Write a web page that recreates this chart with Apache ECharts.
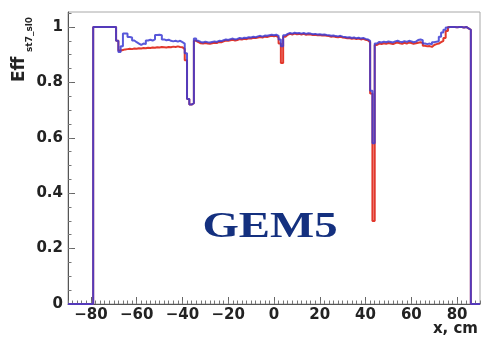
<!DOCTYPE html>
<html>
<head>
<meta charset="utf-8">
<script src="https://cdn.jsdelivr.net/npm/echarts@6/dist/echarts.min.js"></script>
<style>html,body{margin:0;padding:0;background:#fff;}#c{width:481px;height:344px;}</style>
</head>
<body>
<div id="c"></div>
<script>
// Histogram binning (cm)
const binLow = -90;
const binWidth = 1;
// Efficiency per 1 cm bin, from x = -90 to x = 89 (lower edges)
const effBlue = [
  0,0,0,0,0,0,0,0,0,0,
  0,1.0,1.0,1.0,1.0,1.0,1.0,1.0,1.0,1.0,
  1.0,0.95,0.91,0.93,0.976,0.976,0.964,0.962,0.951,0.945,
  0.94,0.935,0.94,0.938,0.951,0.954,0.951,0.955,0.971,0.972,
  0.970,0.955,0.952,0.954,0.95,0.948,0.95,0.947,0.95,0.945,
  0.94,0.905,0.74,0.72,0.725,0.958,0.95,0.946,0.944,0.947,
  0.945,0.944,0.946,0.948,0.946,0.95,0.949,0.952,0.955,0.953,
  0.956,0.958,0.955,0.957,0.96,0.958,0.961,0.96,0.963,0.962,
  0.965,0.963,0.966,0.968,0.965,0.969,0.968,0.97,0.972,0.97,
  0.972,0.968,0.955,0.93,0.97,0.975,0.978,0.976,0.979,0.977,
  0.978,0.976,0.978,0.975,0.977,0.976,0.974,0.975,0.973,0.974,
  0.972,0.973,0.971,0.97,0.968,0.969,0.967,0.966,0.968,0.965,
  0.964,0.962,0.963,0.96,0.962,0.959,0.961,0.958,0.96,0.957,
  0.955,0.95,0.77,0.58,0.94,0.946,0.944,0.947,0.945,0.948,
  0.946,0.944,0.948,0.95,0.947,0.945,0.949,0.946,0.95,0.948,
  0.945,0.947,0.953,0.955,0.952,0.94,0.938,0.94,0.937,0.945,
  0.947,0.948,0.965,0.98,0.99,0.998,1.0,1.0,1.0,0.999,
  1.0,1.0,0.998,1.0,0.995,0.99,0,0,0,0
];
const effRed = [
  0,0,0,0,0,0,0,0,0,0,
  0,1.0,1.0,1.0,1.0,1.0,1.0,1.0,1.0,1.0,
  1.0,0.95,0.915,0.917,0.919,0.92,0.921,0.92,0.922,0.921,
  0.923,0.922,0.924,0.923,0.925,0.924,0.926,0.925,0.927,0.926,
  0.928,0.927,0.926,0.928,0.927,0.929,0.928,0.93,0.928,0.927,
  0.92,0.88,0.74,0.72,0.725,0.95,0.945,0.941,0.94,0.942,
  0.94,0.939,0.941,0.943,0.942,0.946,0.945,0.948,0.951,0.95,
  0.952,0.954,0.951,0.953,0.956,0.955,0.957,0.956,0.959,0.958,
  0.961,0.96,0.962,0.964,0.962,0.965,0.964,0.966,0.968,0.966,
  0.968,0.962,0.94,0.87,0.965,0.972,0.975,0.973,0.976,0.974,
  0.975,0.973,0.975,0.972,0.974,0.973,0.971,0.972,0.97,0.971,
  0.969,0.97,0.968,0.967,0.965,0.966,0.964,0.963,0.965,0.962,
  0.961,0.959,0.96,0.957,0.959,0.956,0.958,0.955,0.957,0.954,
  0.952,0.945,0.76,0.30,0.935,0.94,0.938,0.941,0.939,0.942,
  0.94,0.938,0.942,0.944,0.941,0.939,0.943,0.94,0.944,0.942,
  0.939,0.941,0.943,0.945,0.942,0.932,0.93,0.931,0.928,0.935,
  0.938,0.94,0.945,0.95,0.96,0.985,1.0,1.0,1.0,0.999,
  1.0,1.0,0.998,1.0,0.995,0.99,0,0,0,0
];
const xTickLabels = [-80,-60,-40,-20,0,20,40,60,80];
const yTickLabels = [0,0.2,0.4,0.6,0.8,1];
const xMinorStep = 2;
const yMinorStep = 0.05;
const xRange = [-90, 90];
const yRange = [0, 1.054];

function histPoints(vals) {
  const pts = vals.map((v, i) => [binLow + i * binWidth, v]);
  pts.push([binLow + vals.length * binWidth, vals[vals.length - 1]]);
  return pts;
}
const xMinor = [];
for (let v = xRange[0]; v <= xRange[1] + 1e-9; v += xMinorStep) xMinor.push(v);
const yMinor = [];
for (let k = 0; k * yMinorStep <= yRange[1]; k++) yMinor.push(+(k * yMinorStep).toFixed(3));

const FONT = '"DejaVu Sans", sans-serif';
const chart = echarts.init(document.getElementById('c'), null, {renderer: 'canvas'});
chart.setOption({
  animation: false,
  backgroundColor: '#ffffff',
  grid: {left: 68, right: 1, top: 12, bottom: 40, show: true, borderColor: '#a8a8a8', borderWidth: 1, backgroundColor: 'transparent'},
  xAxis: [
    {type: 'value', min: xRange[0], max: xRange[1], position: 'bottom',
     axisLine: {show: true, onZero: false, lineStyle: {color: '#555', width: 1}},
     axisTick: {show: true, inside: true, length: 7, customValues: xTickLabels, lineStyle: {color: '#666'}},
     axisLabel: {customValues: xTickLabels, margin: 4, fontFamily: FONT, fontWeight: 'bold', fontSize: 15, color: '#222',
       formatter: v => (v < 0 ? '\u2212' + Math.abs(v) : '' + v)},
     splitLine: {show: false}},
    {type: 'value', min: xRange[0], max: xRange[1], position: 'bottom',
     axisLine: {show: false, onZero: false},
     axisTick: {show: true, inside: true, length: 3.5, customValues: xMinor, lineStyle: {color: '#777'}},
     axisLabel: {show: false}, splitLine: {show: false}}
  ],
  yAxis: [
    {type: 'value', min: yRange[0], max: yRange[1], position: 'left',
     axisLine: {show: true, onZero: false, lineStyle: {color: '#555', width: 1}},
     axisTick: {show: true, inside: true, length: 7, customValues: yTickLabels, lineStyle: {color: '#666'}},
     axisLabel: {customValues: yTickLabels, margin: 5, fontFamily: FONT, fontWeight: 'bold', fontSize: 15, color: '#222',
       formatter: v => '' + +v.toFixed(1)},
     splitLine: {show: false}},
    {type: 'value', min: yRange[0], max: yRange[1], position: 'left',
     axisLine: {show: false, onZero: false},
     axisTick: {show: true, inside: true, length: 3.5, customValues: yMinor, lineStyle: {color: '#777'}},
     axisLabel: {show: false}, splitLine: {show: false}}
  ],
  series: [
    {type: 'line', name: 'red', step: 'end', data: histPoints(effRed), xAxisIndex: 0, yAxisIndex: 0,
     showSymbol: false, clip: false, lineStyle: {color: '#e2382c', width: 2}, z: 3},
    {type: 'line', name: 'blue', step: 'end', data: histPoints(effBlue), xAxisIndex: 0, yAxisIndex: 0,
     showSymbol: false, clip: false, lineStyle: {color: '#3b3bd4', width: 2, opacity: 0.85}, z: 4}
  ],
  graphic: [
    {type: 'text', x: 270, y: 228, scaleX: 1.3, style: {text: 'GEM5', font: 'bold 36px "Liberation Serif", serif', fill: '#14307f', align: 'center', verticalAlign: 'middle'}},
    {type: 'text', x: 478, y: 329, style: {text: 'x, cm', font: 'bold 15px ' + FONT, fill: '#222', align: 'right', verticalAlign: 'middle'}},
    {type: 'text', x: 20, y: 82, rotation: Math.PI / 2, style: {text: 'Eff', font: 'bold 17px ' + FONT, fill: '#222', align: 'left', verticalAlign: 'middle'}},
    {type: 'text', x: 30, y: 52, rotation: Math.PI / 2, style: {text: 'st7_sl0', font: 'bold 9px ' + FONT, fill: '#222', align: 'left', verticalAlign: 'middle'}}
  ]
});
</script>
</body>
</html>
